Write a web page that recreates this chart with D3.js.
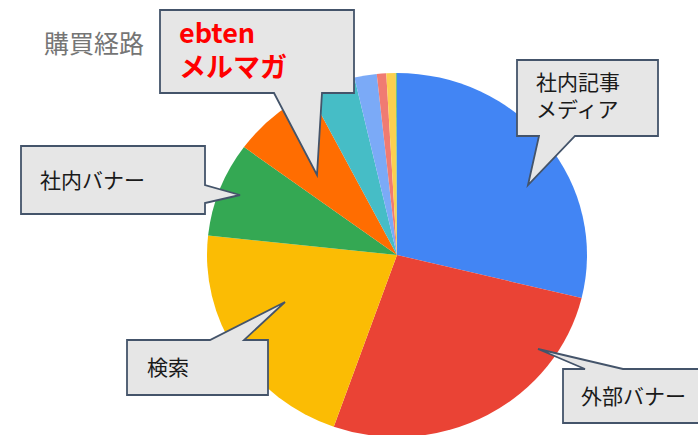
<!DOCTYPE html>
<html>
<head>
<meta charset="utf-8">
<script src="https://cdn.jsdelivr.net/npm/d3@7"></script>
<style>
  html, body { margin: 0; padding: 0; background: #fff; }
  svg { display: block; font-family: "Noto Sans CJK JP", "Noto Sans", sans-serif; }
</style>
</head>
<body>
<div id="chart"></div>
<script>
let width = 698;
let height = 435;

// 購買経路（％）
let categories = ['社内記事メディア', '外部バナー', '検索', '社内バナー', 'ebtenメルマガ',
  'その他A', 'その他B', 'その他C', 'その他D', 'その他E'];
let shares = [28.8, 26.6, 21.3, 8.4, 7.3, 4.0, 1.9, 0.8, 0.8, 0.1];
let colors = ['#4285f4', '#ea4335', '#fbbc04', '#34a853', '#ff6d01',
  '#46bdc6', '#7baaf7', '#f07b72', '#fcd04f', '#71c287'];

let title = '購買経路';

// 吹き出し
let callouts = [
  { lines: ['ebten', 'メルマガ'], red: true,
    box: [160, 10, 354, 93], tail: { side: 'bottom', a: 274, b: 322, tip: [317, 175] },
    tx: 179, ty: [43, 77], size: 27 },
  { lines: ['社内記事', 'メディア'],
    box: [517, 60, 658, 136], tail: { side: 'bottom', a: 539, b: 575, tip: [528, 185] },
    tx: 536, ty: [90, 117], size: 21 },
  { lines: ['社内バナー'],
    box: [21, 146, 205, 214], tail: { side: 'right', a: 185, b: 203, tip: [240, 195] },
    tx: 40, ty: [188], size: 21 },
  { lines: ['検索'],
    box: [127, 340, 268, 395], tail: { side: 'top', a: 210, b: 244, tip: [285, 302] },
    tx: 147, ty: [375], size: 21 },
  { lines: ['外部バナー'],
    box: [563, 369, 710, 423], tail: { side: 'top', a: 585, b: 623, tip: [538, 349] },
    tx: 581, ty: [404], size: 21 }
];

let cx = 397, cy = 255, radius = 190, squash = 0.958;

const svg = d3.select('#chart').append('svg')
  .attr('width', width)
  .attr('height', height);

let pie = d3.pie().sort(null).value(d => d);
let arc = d3.arc().innerRadius(0).outerRadius(radius);

svg.append('g')
  .attr('transform', `translate(${cx}, ${cy}) scale(1, ${squash})`)
  .selectAll('path')
  .data(pie(shares))
  .join('path')
  .attr('fill', (d, i) => colors[i])
  .attr('d', arc);

svg.append('text')
  .attr('x', 44)
  .attr('y', 53)
  .attr('fill', '#757575')
  .attr('font-size', 25)
  .text(title);

// 吹き出しの輪郭
let bubblePath = c => {
  let [x0, y0, x1, y1] = c.box;
  let t = c.tail;
  let p = [];
  if (t.side === 'bottom') {
    p = [[x0, y0], [x1, y0], [x1, y1], [t.b, y1], t.tip, [t.a, y1], [x0, y1]];
  } else if (t.side === 'top') {
    p = [[x0, y0], [t.a, y0], t.tip, [t.b, y0], [x1, y0], [x1, y1], [x0, y1]];
  } else {
    p = [[x0, y0], [x1, y0], [x1, t.a], t.tip, [x1, t.b], [x1, y1], [x0, y1]];
  }
  return 'M' + p.map(q => q.join(',')).join('L') + 'Z';
};

let g = svg.selectAll('g.callout')
  .data(callouts)
  .join('g')
  .attr('class', 'callout');

g.append('path')
  .attr('d', bubblePath)
  .attr('fill', '#e6e6e6')
  .attr('stroke', '#44546a')
  .attr('stroke-width', 1.8)
  .attr('stroke-linejoin', 'miter');

g.each(function(c) {
  d3.select(this).selectAll('text')
    .data(c.lines)
    .join('text')
    .attr('x', c.tx)
    .attr('y', (d, i) => c.ty[i])
    .attr('font-size', c.size)
    .attr('font-weight', c.red ? 'bold' : 'normal')
    .attr('fill', c.red ? '#ff0000' : '#1a1a1a')
    .text(d => d);
});
</script>
</body>
</html>
